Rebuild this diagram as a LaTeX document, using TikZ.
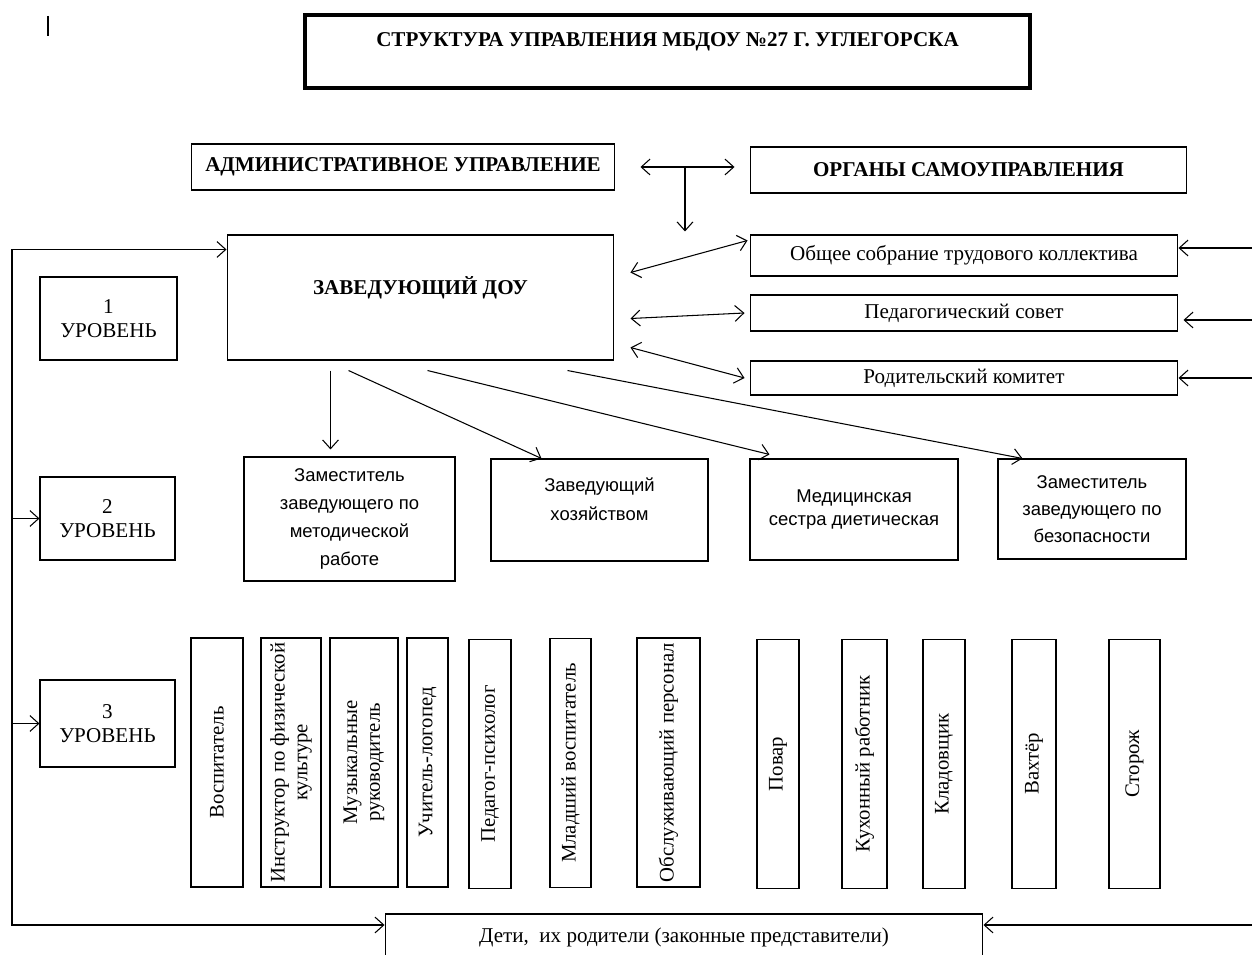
\documentclass[tikz,border=0pt]{standalone}
\usepackage{fontspec}
\setmainfont{Liberation Serif}
\newfontfamily\arialfont{Liberation Sans}
\usetikzlibrary{calc}
\usetikzlibrary{arrows.meta}

\begin{document}
\begin{tikzpicture}[x=0.02cm,y=-0.02cm,line width=0.6pt,
	>={Straight Barb[length=5pt,width=9pt]},
	box/.style={draw,align=center,inner sep=2pt,font=\fontsize{12}{14}\selectfont},
	headbox/.style={box,font=\fontsize{12}{14}\selectfont\bfseries},
	deputy/.style={box,font=\arialfont\fontsize{10.5}{16}\selectfont},
	staff/.style={box,rotate=90,minimum width=4.98cm,font=\fontsize{11.8}{13}\selectfont}]
			\useasboundingbox (0,0) rectangle (1252,955);
			\draw [line width=1.6pt] (48,16)-- (48,36);
			% title
			\node [draw,line width=2.2pt,minimum width=14.5cm,minimum height=1.46cm,font=\fontsize{12}{14}\selectfont\bfseries] (title) at (667.5,51.5) {\raisebox{5.5pt}[\height][\depth]{СТРУКТУРА УПРАВЛЕНИЯ МБДОУ №27 Г. УГЛЕГОРСКА}};
			% top row
			\node [headbox,minimum width=8.48cm,minimum height=0.92cm] (admin) at (403,167) {АДМИНИСТРАТИВНОЕ УПРАВЛЕНИЕ};
			\node [headbox,minimum width=8.74cm,minimum height=0.92cm] (organs) at (968.5,170) {ОРГАНЫ САМОУПРАВЛЕНИЯ};
			\node [headbox,minimum width=7.74cm,minimum height=2.5cm] (zav) at (420.5,297.5) {\raisebox{5.7pt}[\height][\depth]{ЗАВЕДУЮЩИЙ ДОУ}};
			% levels
			\node [box,minimum width=2.74cm,minimum height=1.66cm] (lvl1) at (108.5,318.5) {1\\УРОВЕНЬ};
			\node [box,minimum width=2.7cm,minimum height=1.66cm] (lvl2) at (107.5,518.5) {2\\УРОВЕНЬ};
			\node [box,minimum width=2.7cm,minimum height=1.74cm] (lvl3) at (107.5,723.5) {3\\УРОВЕНЬ};
			% councils
			\node [box,minimum width=8.56cm,minimum height=0.82cm] (council1) at (964,255.5) {Общее собрание трудового коллектива};
			\node [box,minimum width=8.56cm,minimum height=0.72cm] (council2) at (964,313) {Педагогический совет};
			\node [box,minimum width=8.56cm,minimum height=0.68cm] (council3) at (964,378) {Родительский комитет};
			% level 2
			\node [deputy,minimum width=4.22cm,minimum height=2.48cm] (zammet) at (349.5,519) {Заместитель\\заведующего по\\методической\\работе};
			\node [deputy,minimum width=4.34cm,minimum height=2.04cm,font=\arialfont\fontsize{10.5}{17}\selectfont] (zavhoz) at (599.5,510) {\raisebox{5.7pt}[\height][\depth]{\begin{tabular}{@{}c@{}}Заведующий\\хозяйством\end{tabular}}};
			\node [deputy,minimum width=4.16cm,minimum height=2.02cm,font=\arialfont\fontsize{10.5}{13.5}\selectfont] (medsis) at (854,509.5) {Медицинская\\сестра диетическая};
			\node [deputy,minimum width=3.76cm,minimum height=2cm,font=\arialfont\fontsize{10.5}{15.5}\selectfont] (zambez) at (1092,509) {Заместитель\\заведующего по\\безопасности};
			% level 3
			\node [staff,minimum height=1.04cm] (vosp) at (217,762.5) {Воспитатель};
			\node [staff,minimum height=1.2cm] (instr) at (291,762.5) {Инструктор по физической\\культуре};
			\node [staff,minimum height=1.36cm] (muz) at (364,762.5) {Музыкальные\\руководитель};
			\node [staff,minimum height=0.82cm] (logo) at (427.5,762.5) {Учитель-логопед};
			\node [staff,minimum height=0.84cm] (psych) at (490,764) {Педагог-психолог};
			\node [staff,minimum height=0.82cm] (mlad) at (570.5,763) {Младший воспитатель};
			\node [staff,minimum height=1.26cm] (obsl) at (668.5,762.5) {Обслуживающий персонал};
			\node [staff,minimum height=0.84cm] (povar) at (778,764) {Повар};
			\node [staff,minimum height=0.9cm] (kuhn) at (864.5,764) {Кухонный работник};
			\node [staff,minimum height=0.84cm] (klad) at (944,764) {Кладовщик};
			\node [staff,minimum height=0.88cm] (vaht) at (1034,764) {Вахтёр};
			\node [staff,minimum height=1.02cm] (stor) at (1134.5,764) {Сторож};
			\node [box,minimum width=11.96cm,minimum height=0.92cm] (children) at (684,937) {Дети,\ \ их родители (законные представители)};
			% connectors
			\coordinate (fork) at (685,167);
			\coordinate (leftedge) at (12,0);
			\coordinate (rightedge) at (1252,0);
			\draw [<->,shorten <=0.5cm,shorten >=0.3cm] (admin.east)-- (admin.east -| organs.west);
			\draw [->] (fork)-- ([yshift=0.06cm]fork |- zav.north);
			\draw [<->] ($(zav.south east)+(16,-88)$)-- ($(council1.west)+(-2,-15)$);
			\draw [<->] ($(zav.south east)+(16,-42)$)-- ($(council2.west)+(-5,0)$);
			\draw [<->] ($(zav.south east)+(16,-13)$)-- ($(council3.west)+(-5,0)$);
			\draw [->] ([yshift=0.15cm]council1.east -| rightedge)-- ([yshift=0.15cm]council1.east);
			\draw [->] ([yshift=-0.14cm]council2.east -| rightedge)-- ([xshift=0.1cm,yshift=-0.14cm]council2.east);
			\draw [->] (council3.east -| rightedge)-- (council3.east);
			\coordinate (z1) at ($(zav.south west)+(104,10)$);
			\draw [->,shorten >=0.14cm] (z1)-- (z1 |- zammet.north);
			\draw [->] ($(zav.south west)+(122,10)$)-- ($(zavhoz.north west)+(51,0)$);
			\draw [->] ($(zav.south west)+(201,10)$)-- ($(medsis.north west)+(20,-4)$);
			\draw [->] ($(zav.south west)+(341,10)$)-- ($(zambez.north west)+(25,0)$);
			\coordinate (zavin) at ($(zav.north west)+(0,15)$);
			\coordinate (kidsin) at ([yshift=0.24cm]children.west);
			\coordinate (kidsout) at ([yshift=0.24cm]children.east);
			\draw [<->] (zavin)-- (zavin -| leftedge)-- (kidsin -| leftedge)-- (kidsin);
			\draw [->] (lvl2.west -| leftedge)-- (lvl2.west);
			\draw [->] (lvl3.west -| leftedge)-- (lvl3.west);
			\draw [->] (kidsout -| rightedge)-- (kidsout);
		\end{tikzpicture}
\end{document}
